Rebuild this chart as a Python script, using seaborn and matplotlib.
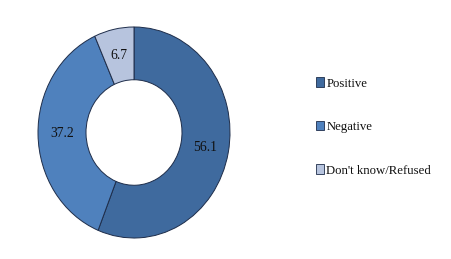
import matplotlib
matplotlib.use("Agg")
import matplotlib.pyplot as plt
import seaborn as sns
from matplotlib.patches import Patch

categories = ["Positive", "Negative", "Don't know/Refused"]
values = [56.1, 37.2, 6.7]
colors = ["#3F6A9E", "#4F81BD", "#B7C4DE"]

sns.set_theme(style="white")
plt.rcParams["font.family"] = ["Liberation Serif", "DejaVu Serif"]

W, H = 451, 259
fig = plt.figure(figsize=(W / 100, H / 100), dpi=100)
fig.patch.set_facecolor("white")

# donut spans x 38..230, y 27..238 (pixels, top origin)
ax = fig.add_axes([38 / W, (H - 238) / H, 192 / W, 211 / H])
wedges, texts, autotexts = ax.pie(
    values,
    colors=colors,
    startangle=90,
    counterclock=False,
    autopct="%.1f",
    pctdistance=0.75,
    radius=1.0,
    wedgeprops=dict(width=0.5, edgecolor="#1E2D4A", linewidth=0.7),
    textprops=dict(fontsize=9.8, color="#111111"),
)
ax.set_aspect("auto")
ax.set_xlim(-1.0, 1.0)
ax.set_ylim(-1.0, 1.0)
ax.axis("off")

handles = [Patch(facecolor=c, edgecolor="#1E2D4A", linewidth=0.6) for c in colors]
leg = fig.legend(
    handles, categories,
    loc="center left",
    bbox_to_anchor=(316 / W, 1 - 127 / H),
    frameon=False,
    fontsize=9.2,
    handlelength=0.6,
    handleheight=0.75,
    handletextpad=0.2,
    labelspacing=2.45,
    borderpad=0,
    borderaxespad=0,
)
for t in leg.get_texts():
    t.set_color("#111111")

fig.savefig("out.png", dpi=100, facecolor="white")
